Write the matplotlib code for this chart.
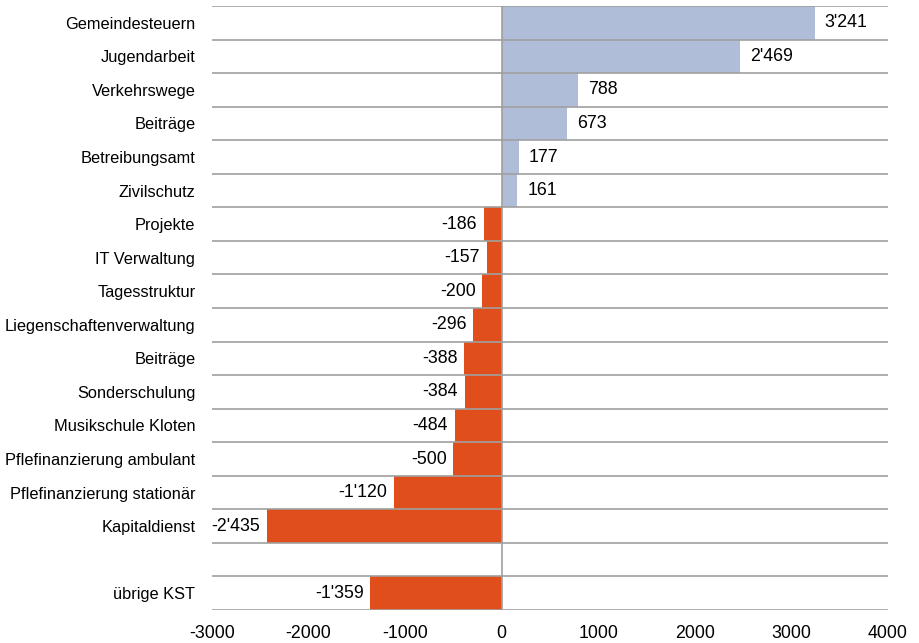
import matplotlib.pyplot as plt
import matplotlib as mpl

categories = ['Gemeindesteuern', 'Jugendarbeit', 'Verkehrswege', 'Beiträge',
              'Betreibungsamt', 'Zivilschutz', 'Projekte', 'IT Verwaltung',
              'Tagesstruktur', 'Liegenschaftenverwaltung', 'Beiträge',
              'Sonderschulung', 'Musikschule Kloten', 'Pflefinanzierung ambulant',
              'Pflefinanzierung stationär', 'Kapitaldienst', '', 'übrige KST']
values = [3241, 2469, 788, 673, 177, 161, -186, -157, -200, -296, -388,
          -384, -484, -500, -1120, -2435, None, -1359]
xticks = [-3000, -2000, -1000, 0, 1000, 2000, 3000, 4000]


def fmt(v):
    return f'{v:,}'.replace(',', "'")


mpl.rcParams['font.family'] = ['Liberation Sans', 'DejaVu Sans']
mpl.rcParams['axes.unicode_minus'] = False

fig = plt.figure(figsize=(9.19, 6.43), dpi=100)
ax = fig.add_axes([212 / 919, 1 - 610 / 643, 676 / 919, 604 / 643])

n = len(categories)
pos = list(range(n))
for i, v in zip(pos, values):
    if v is None:
        continue
    color = '#b0bdd9' if v > 0 else '#e04e1b'
    ax.barh(i, v, height=1.0, color=color, zorder=1)
    if v > 0:
        ax.text(v + 105, i, fmt(v), va='center', ha='left', fontsize=12.8)
    else:
        ax.text(v - 70, i, fmt(v), va='center', ha='right', fontsize=12.8)

for k in range(n + 1):
    ax.axhline(k - 0.5, color='#a0a0a0', lw=1.2, zorder=2)
ax.axvline(0, color='#a0a0a0', lw=1.2, zorder=3)

ax.set_ylim(n - 0.5, -0.5)
ax.set_xlim(-3000, 4000)
ax.set_yticks(pos)
ax.set_yticklabels(categories, fontsize=11.8)
ax.set_xticks(xticks)
ax.set_xticklabels([str(t) for t in xticks], fontsize=12.8)
ax.tick_params(length=0)
ax.tick_params(axis='y', pad=12)
ax.tick_params(axis='x', pad=11)
for s in ax.spines.values():
    s.set_visible(False)

fig.savefig('out.png', dpi=100)
